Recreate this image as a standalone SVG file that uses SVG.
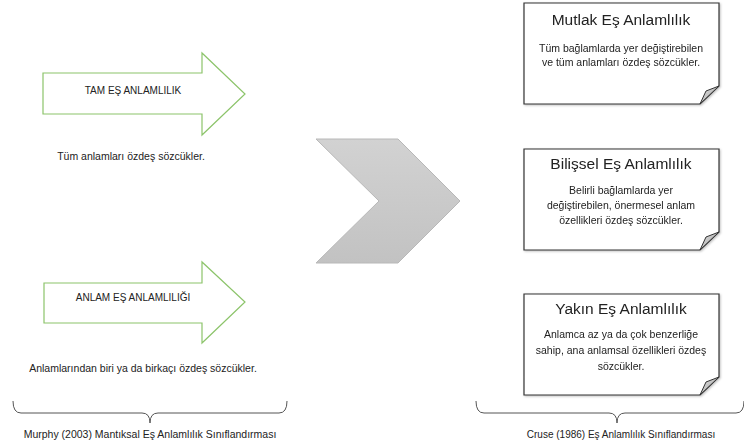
<svg xmlns="http://www.w3.org/2000/svg" width="744" height="448" viewBox="0 0 744 448">
<defs>
<linearGradient id="chev" x1="0" y1="0" x2="0" y2="1">
<stop offset="0" stop-color="#d2d2d2"/>
<stop offset="1" stop-color="#c2c2c2"/>
</linearGradient>
<linearGradient id="fold" x1="0" y1="0" x2="1" y2="1">
<stop offset="0" stop-color="#e6e6e6"/>
<stop offset="1" stop-color="#9a9a9a"/>
</linearGradient>
<filter id="sh" x="-5%" y="-5%" width="115%" height="115%">
<feDropShadow dx="1" dy="1" stdDeviation="1" flood-color="#000" flood-opacity="0.25"/>
</filter>
</defs>
<style>
text{font-family:"Liberation Sans",Arial,sans-serif;fill:#222;text-anchor:middle}
.arrow{fill:#fff;stroke:#8cc46a;stroke-width:1.2}
.lbl{font-size:10px}
.desc{font-size:10.5px}
.note{fill:#fff;stroke:#333;stroke-width:1.2}
.foldc{fill:url(#fold);stroke:#333;stroke-width:1}
.title{font-size:15.5px}
.body{font-size:10.5px}
.brace{fill:none;stroke:#555;stroke-width:1}
.cap{font-size:10px}
</style>
<rect width="744" height="448" fill="#fff"/>

<g id="tam">
<path class="arrow" d="M43,73 H202 V53 L245,94 L202,135 V114 H43 Z"/>
<text class="lbl" x="133" y="94">TAM EŞ ANLAMLILIK</text>
<text class="desc" x="131" y="160">Tüm anlamları özdeş sözcükler.</text>
</g>

<g id="anlam">
<path class="arrow" d="M44,283 H202 V262 L245,302 L202,343 V323 H44 Z"/>
<text class="lbl" x="133" y="301">ANLAM EŞ ANLAMLILIĞI</text>
<text class="desc" x="143" y="372">Anlamlarından biri ya da birkaçı özdeş sözcükler.</text>
</g>

<g id="chevron">
<path d="M316,139 H398 L460,201 L398,263 H316 L379,201 Z" fill="url(#chev)" stroke="#b8b8b8" stroke-width="1"/>
</g>

<g id="mutlak" filter="url(#sh)">
<path class="note" d="M524,3 H719 V86 L700,104 H524 Z"/>
<path class="foldc" d="M719,86 L706,91 L700,104 Z"/>
<text class="title" x="621" y="25">Mutlak Eş Anlamlılık</text>
<text class="body" x="621" y="52">Tüm bağlamlarda yer değiştirebilen</text>
<text class="body" x="621" y="66">ve tüm anlamları özdeş sözcükler.</text>
</g>

<g id="bilissel" filter="url(#sh)">
<path class="note" d="M524,149 H719 V232 L700,250 H524 Z"/>
<path class="foldc" d="M719,232 L706,237 L700,250 Z"/>
<text class="title" x="621" y="169">Bilişsel Eş Anlamlılık</text>
<text class="body" x="621" y="194">Belirli bağlamlarda yer</text>
<text class="body" x="621" y="209">değiştirebilen, önermesel anlam</text>
<text class="body" x="621" y="224">özellikleri özdeş sözcükler.</text>
</g>

<g id="yakin" filter="url(#sh)">
<path class="note" d="M524,294 H719 V377 L700,395 H524 Z"/>
<path class="foldc" d="M719,377 L706,382 L700,395 Z"/>
<text class="title" x="621" y="314">Yakın Eş Anlamlılık</text>
<text class="body" x="621" y="338">Anlamca az ya da çok benzerliğe</text>
<text class="body" x="621" y="354">sahip, ana anlamsal özellikleri özdeş</text>
<text class="body" x="621" y="370">sözcükler.</text>
</g>

<g id="braces">
<path class="brace" d="M13,401 Q13,413 21,413 H142 Q150,413 150,423 Q150,413 158,413 H279 Q287,413 287,401"/>
<path class="brace" d="M476,401 Q476,413 484,413 H609 Q617,413 617,423 Q617,413 625,413 H736 Q744,413 744,401"/>
</g>

<g id="captions">
<text class="cap" x="150" y="438" style="font-size:10.5px">Murphy (2003) Mantıksal Eş Anlamlılık Sınıflandırması</text>
<text class="cap" x="621" y="438">Cruse (1986) Eş Anlamlılık Sınıflandırması</text>
</g>
</svg>
